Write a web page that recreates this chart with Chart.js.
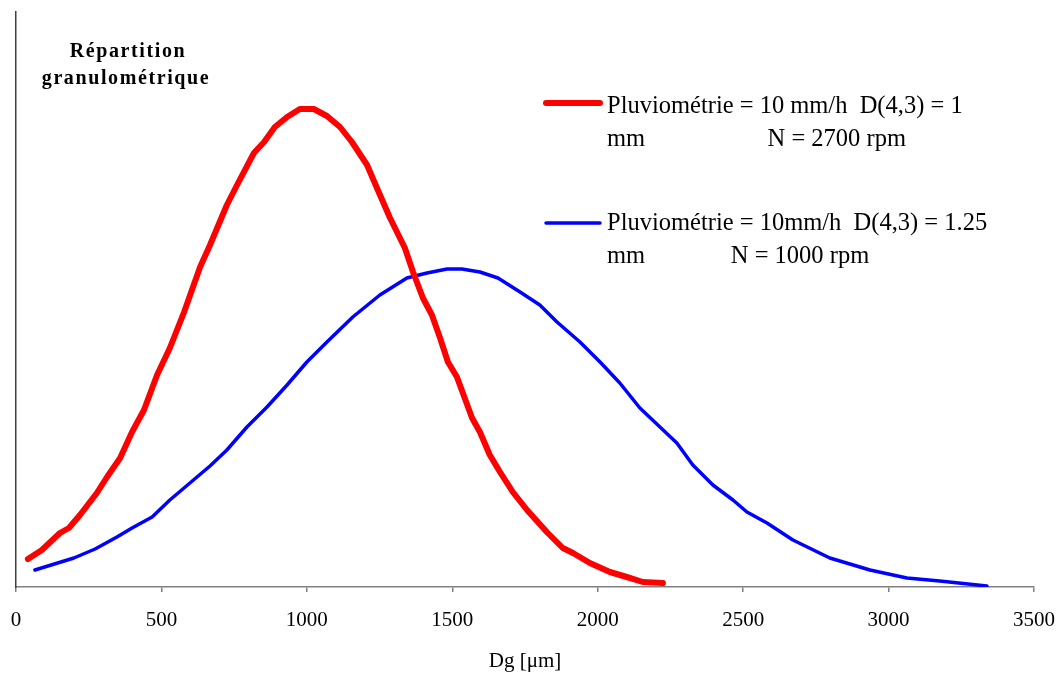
<!DOCTYPE html>
<html>
<head>
<meta charset="utf-8">
<script src="https://cdn.jsdelivr.net/npm/chart.js@4.4.1/dist/chart.umd.min.js"></script>
<style>
  html, body { margin: 0; padding: 0; background: #ffffff; }
  #wrap { width: 1061px; height: 674px; position: relative; }
</style>
</head>
<body>
<div id="wrap"><canvas id="c"></canvas></div>
<script>
// ---- data (Dg in µm, relative frequency in arbitrary units) ----
const redX = [41, 89, 151, 182, 220, 278, 313, 358, 399, 440, 485, 529, 578, 633, 667, 725, 760, 818, 853, 890, 932, 976, 1024, 1069, 1114, 1155, 1207, 1244, 1286, 1337, 1365, 1399, 1430, 1458, 1485, 1516, 1568, 1595, 1629, 1664, 1708, 1757, 1825, 1880, 1915, 1973, 2042, 2100, 2155, 2224];
const redY = [28, 37, 54, 59, 72, 94, 110, 129, 155, 177, 212, 239, 275, 320, 342, 382, 402, 434, 445, 460, 470, 478, 478, 471, 460, 445, 422, 397, 369, 339, 315, 289, 272, 249, 225, 210, 169, 155, 132, 115, 95, 77, 55, 39, 34, 24, 15, 10, 5, 4];

const blueX = [65, 199, 272, 347, 399, 468, 529, 598, 667, 725, 794, 863, 932, 1000, 1069, 1158, 1251, 1344, 1413, 1482, 1533, 1595, 1657, 1733, 1801, 1860, 1939, 2008, 2076, 2145, 2214, 2272, 2327, 2396, 2465, 2513, 2582, 2671, 2798, 2936, 3063, 3176, 3338];
const blueY = [17, 29, 38, 50, 59, 70, 87, 104, 121, 137, 160, 180, 202, 225, 245, 270, 292, 309, 314, 318, 318, 315, 309, 295, 282, 265, 245, 225, 204, 179, 160, 144, 122, 102, 87, 75, 64, 47, 29, 17, 9, 6, 1];

const xTicks = [0, 500, 1000, 1500, 2000, 2500, 3000, 3500];
const xTitle = "Dg [\u03BCm]";
const chartTitle = ["Répartition", "granulométrique"];
const redLabel = ["Pluviométrie = 10 mm/h  D(4,3) = 1", "mm                    N = 2700 rpm"];
const blueLabel = ["Pluviométrie = 10mm/h  D(4,3) = 1.25", "mm              N = 1000 rpm"];

const pts = (xs, ys) => xs.map((x, i) => ({ x: x, y: ys[i] }));
const SERIF = "'Liberation Serif', 'Times New Roman', serif";

const customLegend = {
  id: 'customLegend',
  afterDraw(chart) {
    const ctx = chart.ctx;
    ctx.save();
    // title block
    ctx.fillStyle = '#000';
    ctx.font = 'bold 20px ' + SERIF;
    ctx.textAlign = 'center';
    ctx.textBaseline = 'alphabetic';
    try { ctx.letterSpacing = '1.6px'; } catch (e) {}
    ctx.fillText(chartTitle[0], 128, 57);
    ctx.fillText(chartTitle[1], 126, 84);
    try { ctx.letterSpacing = '0px'; } catch (e) {}

    // legend entries
    const entries = [
      { ds: chart.data.datasets[0], sampleY: 103, base: 113 },
      { ds: chart.data.datasets[1], sampleY: 223, base: 230 }
    ];
    ctx.font = '24.5px ' + SERIF;
    ctx.textAlign = 'left';
    entries.forEach(e => {
      ctx.beginPath();
      ctx.strokeStyle = e.ds.borderColor;
      ctx.lineWidth = e.ds.borderWidth;
      ctx.lineCap = 'round';
      ctx.moveTo(546, e.sampleY);
      ctx.lineTo(600, e.sampleY);
      ctx.stroke();
      ctx.fillStyle = '#000';
      e.ds.label.forEach((line, i) => {
        ctx.fillText(line, 607, e.base + i * 32.5);
      });
    });
    ctx.restore();
  }
};

new Chart(document.getElementById('c'), {
  type: 'scatter',
  data: {
    datasets: [
      {
        label: redLabel,
        data: pts(redX, redY),
        showLine: true,
        borderColor: '#FF0000',
        backgroundColor: '#FF0000',
        borderWidth: 6,
        pointRadius: 0,
        borderCapStyle: 'round',
        borderJoinStyle: 'round',
        tension: 0
      },
      {
        label: blueLabel,
        data: pts(blueX, blueY),
        showLine: true,
        borderColor: '#0000FF',
        backgroundColor: '#0000FF',
        borderWidth: 3.5,
        pointRadius: 0,
        borderCapStyle: 'round',
        borderJoinStyle: 'round',
        tension: 0
      }
    ]
  },
  options: {
    responsive: true,
    maintainAspectRatio: false,
    animation: false,
    devicePixelRatio: 1,
    layout: { padding: { left: 16, right: 27, top: 12, bottom: 0 } },
    plugins: {
      legend: { display: false },
      tooltip: { enabled: false },
      title: { display: false }
    },
    scales: {
      x: {
        type: 'linear',
        min: 0,
        max: 3500,
        afterBuildTicks: (s) => { s.ticks = xTicks.map(v => ({ value: v })); },
        afterFit: (s) => { s.height = 87; s.paddingLeft = 0; s.paddingRight = 0; },
        ticks: {
          color: '#000',
          font: { family: SERIF, size: 21 },
          padding: 16,
          maxRotation: 0,
          autoSkip: false,
          callback: (v) => String(v)
        },
        grid: {
          display: true,
          drawOnChartArea: false,
          drawTicks: true,
          tickLength: 5,
          color: '#808080',
          lineWidth: 1.5
        },
        border: { display: true, color: '#808080', width: 1.5 },
        title: {
          display: true,
          text: xTitle,
          color: '#000',
          font: { family: SERIF, size: 21 },
          padding: { top: 0, bottom: 0 }
        }
      },
      y: {
        type: 'linear',
        min: 0,
        max: 575,
        afterFit: (s) => { s.width = 0; s.paddingTop = 0; s.paddingBottom = 0; },
        ticks: { display: false },
        grid: { display: false },
        border: { display: true, color: '#404040', width: 1.5 }
      }
    }
  },
  plugins: [customLegend]
});
</script>
</body>
</html>
